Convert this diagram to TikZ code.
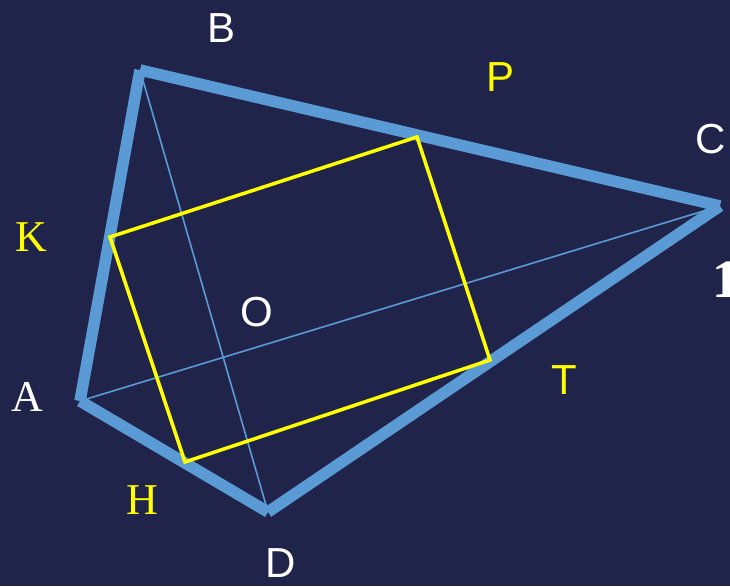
\documentclass[tikz,border=0pt]{standalone}
\usepackage{fontspec}
\setmainfont{Liberation Serif}
\setsansfont{Liberation Sans}
\usepackage{tikz}
\usetikzlibrary{positioning, calc}
\definecolor{bgNavy}{HTML}{21244A}
\definecolor{edgeBlue}{HTML}{5B9BD5}
\definecolor{rectYel}{HTML}{FFFF00}
\begin{document}
\begin{tikzpicture}[x=1pt,y=-1pt,edge/.style={draw=edgeBlue, line width=11.5pt},diag/.style={draw=edgeBlue, line width=1.6pt},rect/.style={draw=rectYel, line width=3.5pt, line join=miter},lblW/.style={font=\sffamily\fontsize{42}{42}\selectfont, text=white, inner sep=0pt},lblY/.style={font=\sffamily\fontsize{42}{42}\selectfont, text=rectYel, inner sep=0pt},lblS/.style={font=\rmfamily\fontsize{44}{44}\selectfont, inner sep=0pt}]
\fill[bgNavy] (0,0) rectangle (730,586);
\useasboundingbox (0,0) rectangle (730,586);
\coordinate (a) at (80,401); \coordinate (b) at (140,70); \coordinate (c) at (720,206); \coordinate (d) at (268,512);
\coordinate (k) at (110,237); \coordinate (p) at (417,137); \coordinate (t) at (490,360); \coordinate (h) at (185,462);
% diagonals
\draw[diag] (b) -- (d); \draw[diag] (a) -- (c);
% quadrilateral, one side at a time
\draw[edge] (a) -- (b); \draw[edge] (b) -- (c); \draw[edge] (c) -- (d); \draw[edge] (d) -- (a);
% inscribed rectangle
\draw[rect] (k) -- (p) -- (t) -- (h) -- cycle;
\node[lblW] (lB) at (222,28) {B}; \node[lblY] (lP) at (500,77) {P}; \node[lblW] (lC) at (711,139) {C};
\node[lblS, text=rectYel] (lK) at (31,237) {K}; \node[lblW] (lO) at (257,312) {O}; \node[lblS, text=white] (lA) at (27,397) {A};
\node[lblY] (lT) at (564,380) {T}; \node[lblS, text=rectYel] (lH) at (142,500) {H}; \node[lblW] (lD) at (281,563) {D};
\node[lblS, text=white, font=\rmfamily\bfseries\fontsize{54}{54}\selectfont, anchor=base west] (lOne) at (712,297) {1};
\end{tikzpicture}
\end{document}
